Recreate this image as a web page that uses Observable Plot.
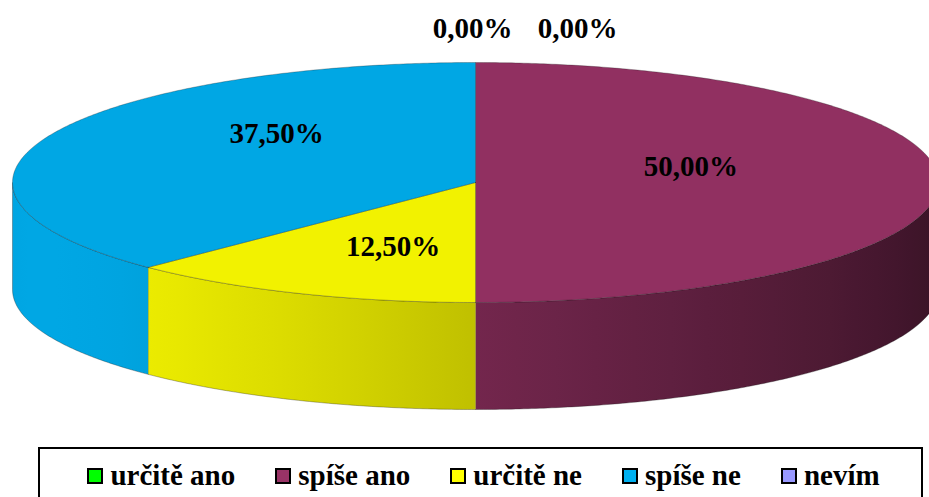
<!DOCTYPE html>
<html><head><meta charset="utf-8">
<script src="https://cdn.jsdelivr.net/npm/d3@7"></script>
<script src="https://cdn.jsdelivr.net/npm/@observablehq/plot@0.6"></script>
<style>
body{margin:0;background:#fff;width:929px;height:497px;overflow:hidden;position:relative;font-family:'Liberation Serif','DejaVu Serif',serif;}
#chart{position:absolute;left:0;top:0;}
#legend{position:absolute;left:38px;top:447px;width:885px;height:70px;border:2px solid #000;box-sizing:border-box;display:flex;justify-content:center;gap:40px;align-items:flex-start;padding-top:9px;font-weight:bold;font-size:29px;line-height:34px;color:#000;padding-left:6px;font-family:'Liberation Serif','DejaVu Serif',serif;}
.item{display:flex;align-items:center;white-space:nowrap;}
.sw{width:12px;height:12px;border:2px solid #000;margin-right:7px;margin-top:1px;}
</style></head><body>
<div id="chart"></div><div id="legend"></div>
<script>
const categories = ["určitě ano", "spíše ano", "určitě ne", "spíše ne", "nevím"];
const values = [0, 50, 12.5, 37.5, 0];
const palette = ["#00ff00", "#993366", "#ffff00", "#00b0f0", "#9999ff"];

const W = 929, H = 445;
const CX = 475, CY = 182, RX = 463, RY = 120, DEPTH = 107;
const total = d3.sum(values);
let acc = 0;
const slices = categories.map((c, i) => {
  const a0 = acc / total * 360; acc += values[i]; const a1 = acc / total * 360;
  return {i, c, v: values[i], a0, a1};
});
const D = DEPTH / RY;
const rad = d => d * Math.PI / 180;
const pt = (deg, dz = 0) => ({x: Math.sin(rad(deg)), y: -Math.cos(rad(deg)) + dz});
function arc(a0, a1, dz = 0) {
  const n = Math.max(2, Math.ceil(Math.abs(a1 - a0) / 0.5));
  return d3.range(n + 1).map(k => pt(a0 + (a1 - a0) * k / n, dz));
}
const bright = th => Math.max(0.3, Math.min(0.95, 0.65 + 0.30 * Math.cos(rad(th - 250))));
const shade = (col, f) => { const c = d3.rgb(col); return d3.rgb(c.r * f, c.g * f, c.b * f).formatHex(); };

const fmt = v => (v / total * 100).toFixed(2).replace(".", ",") + "%";

const marks = [];
// gradient definitions
marks.push((index, scales) => {
  const g = d3.create("svg:defs");
  const x0 = scales.x(-1), x1 = scales.x(1);
  slices.forEach(s => {
    const lg = g.append("linearGradient").attr("id", "side" + s.i)
      .attr("gradientUnits", "userSpaceOnUse")
      .attr("x1", x0).attr("x2", x1).attr("y1", 0).attr("y2", 0);
    d3.range(0, 181, 5).forEach(t => {
      const th = 270 - t;
      const off = (scales.x(Math.sin(rad(th))) - x0) / (x1 - x0);
      lg.append("stop").attr("offset", off).attr("stop-color", shade(palette[s.i], bright(th)));
    });
  });
  return g.node();
});
// side faces (front half only)
slices.forEach(s => {
  const s0 = Math.max(s.a0, 90), s1 = Math.min(s.a1, 270);
  if (s1 > s0) {
    const poly = [...arc(s0, s1), ...arc(s1, s0, D)];
    marks.push(Plot.line(poly, {x: "x", y: "y", fill: `url(#side${s.i})`, stroke: "#1a1a1a", strokeOpacity: 0.45, strokeWidth: 0.7}));
  }
});
// top faces
slices.forEach(s => {
  if (s.a1 > s.a0) {
    const poly = [{x: 0, y: 0}, ...arc(s.a0, s.a1), {x: 0, y: 0}];
    marks.push(Plot.line(poly, {x: "x", y: "y", fill: shade(palette[s.i], 0.95), stroke: "#1a1a1a", strokeOpacity: 0.4, strokeWidth: 0.7}));
  }
});
// labels
let zi = 0;
const labels = slices.map(s => {
  if (s.v > 0) {
    const m = (s.a0 + s.a1) / 2;
    return {x: 0.465 * Math.sin(rad(m)), y: -0.72 * Math.cos(rad(m)) - 16 / RY, t: fmt(s.v)};
  }
  const k = zi++;
  return {x: (k * 105 - 3) / RX, y: -1 - 34 / RY, t: fmt(s.v)};
});
marks.push(Plot.text(labels, {x: "x", y: "y", text: "t", fontSize: 29, fontWeight: "bold", fontFamily: "'Liberation Serif', 'DejaVu Serif', serif", fill: "#000"}));

const chart = Plot.plot({
  width: W, height: H,
  marginTop: 0, marginBottom: 0, marginLeft: 0, marginRight: 0,
  x: {domain: [-CX / RX, (W - CX) / RX], range: [0, W], axis: null},
  y: {domain: [-CY / RY, (H - CY) / RY], range: [0, H], axis: null},
  style: {background: "transparent", overflow: "visible", fontFamily: "'Liberation Serif', 'DejaVu Serif', serif"},
  marks
});
document.getElementById("chart").append(chart);

const legend = d3.select("#legend");
categories.forEach((c, i) => {
  const it = legend.append("div").attr("class", "item");
  it.append("div").attr("class", "sw").style("background", palette[i]);
  it.append("span").text(c);
});
</script>
</body></html>
